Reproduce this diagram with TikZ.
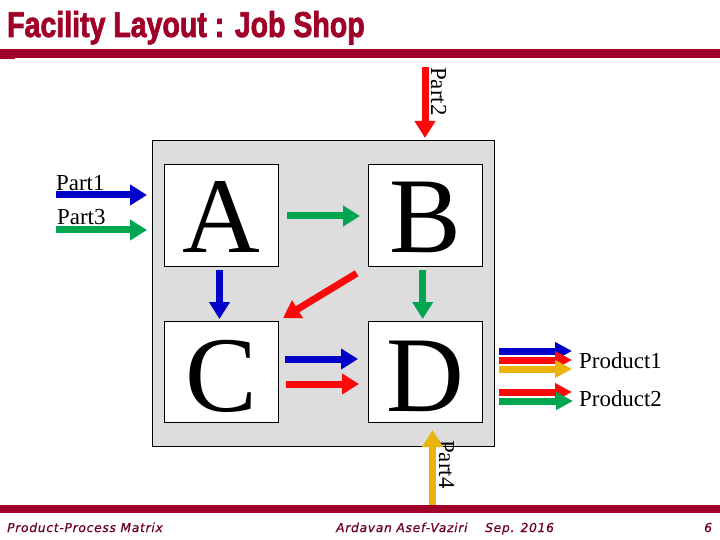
\documentclass[tikz,border=0pt]{standalone}
\usepackage{fontspec}
\setmainfont{Liberation Serif}
\newfontfamily\titlefont[FakeStretch=0.795,FakeBold=2]{Liberation Sans Bold}
\newfontfamily\footfont[LetterSpace=6,FakeBold=0.6]{DejaVu Sans Oblique}
\usetikzlibrary{arrows.meta}
\definecolor{barred}{RGB}{160,0,40}
\definecolor{footcol}{RGB}{110,0,35}
\definecolor{ablue}{RGB}{0,0,200}
\definecolor{agreen}{RGB}{0,166,80}
\definecolor{ared}{RGB}{250,10,10}
\definecolor{ayellow}{RGB}{235,180,10}
\definecolor{boxgray}{RGB}{221,221,221}
\tikzset{
  blockarrow/.style={line width=7bp,line cap=butt,-{Triangle[width=20bp,length=17bp]}},
  thinarrow/.style={line width=7bp,line cap=butt,-{Triangle[width=17bp,length=17bp]}},
  dept/.style={draw=black,fill=white,line width=0.8bp,inner sep=0pt},
  bigletter/.style={font=\fontsize{108}{108}\selectfont,inner sep=0pt,anchor=base},
  lbl/.style={font=\fontsize{23}{23}\selectfont,inner sep=0pt},
  foot/.style={font=\footfont\fontsize{12.3}{13}\selectfont,text=footcol,inner sep=0pt,anchor=base west}
}
\begin{document}
\begin{tikzpicture}[x=1bp,y=-1bp]
\useasboundingbox (0,0) rectangle (720,540);
\fill[white] (0,0) rectangle (720,540);
% title and bars
\node[font=\titlefont\fontsize{36}{36}\selectfont,text=barred,inner sep=0pt,anchor=base west] (title) at (7,37) {Facility Layout : Job Shop};
\fill[barred] (0,49) rectangle (720,58);
\fill[barred] (0,49) rectangle (15,59.5);
\fill[barred] (0,505) rectangle (720,513);
% plant
\draw[fill=boxgray,line width=0.8bp] (152,140) rectangle (494,446);
\node[dept,minimum width=114bp,minimum height=102bp] (A) at (221.5,215) {};
\node[dept,minimum width=114bp,minimum height=102bp] (B) at (425.5,215) {};
\node[dept,minimum width=114bp,minimum height=101bp] (C) at (221.5,371.5) {};
\node[dept,minimum width=114bp,minimum height=101bp] (D) at (425.5,371.5) {};
\node[bigletter] (la) at (221.5,253) {A};
\node[bigletter] (lb) at (425.5,253) {B};
\node[bigletter] (lc) at (221.5,411) {C};
\node[bigletter] (ld) at (425.5,411) {D};
% coordinates
\coordinate (p1s) at (56,195);   \coordinate (p1e) at (147,195);
\coordinate (p3s) at (56,230);   \coordinate (p3e) at (147,230);
\coordinate (p2s) at (425,67);   \coordinate (p2e) at (425,138);
\coordinate (p4s) at (432.5,505); \coordinate (p4e) at (432.5,430);
\coordinate (abs) at (287,216);  \coordinate (abe) at (360,216);
\coordinate (acs) at (219.5,270); \coordinate (ace) at (219.5,319);
\coordinate (bds) at (422.7,270); \coordinate (bde) at (422.7,319);
\coordinate (bcs) at (356.7,273.3); \coordinate (bce) at (283,318);
\coordinate (cd1s) at (285,359); \coordinate (cd1e) at (358,359);
\coordinate (cd2s) at (286,384); \coordinate (cd2e) at (359,384);
\coordinate (o1s) at (499,351); \coordinate (o1e) at (572,351);
\coordinate (o2s) at (499,360); \coordinate (o2e) at (572,360);
\coordinate (o3s) at (499,369); \coordinate (o3e) at (572,369);
\coordinate (o4s) at (499,392); \coordinate (o4e) at (572,392);
\coordinate (o5s) at (499,401); \coordinate (o5e) at (573,401);
% labels
\node[lbl,anchor=base west] (t1) at (56,191) {Part1};
\node[lbl,anchor=base west] (t3) at (57,225) {Part3};
\node[lbl,anchor=base west,rotate=-90] (t2) at (431,67) {Part2};
\node[lbl,anchor=base west,rotate=-90] (t4) at (439,440) {Part4};
\node[lbl,anchor=base west] (tp1) at (579,368) {Product1};
\node[lbl,anchor=base west] (tp2) at (579,406) {Product2};
% arrows
\draw[blockarrow,ablue] (p1s) -- (p1e);
\draw[blockarrow,agreen] (p3s) -- (p3e);
\draw[blockarrow,ared] (p2s) -- (p2e);
\draw[blockarrow,ayellow] (p4s) -- (p4e);
\draw[blockarrow,agreen] (abs) -- (abe);
\draw[blockarrow,ablue] (acs) -- (ace);
\draw[blockarrow,agreen] (bds) -- (bde);
\draw[blockarrow,ared] (bcs) -- (bce);
\draw[blockarrow,ablue] (cd1s) -- (cd1e);
\draw[blockarrow,ared] (cd2s) -- (cd2e);
\draw[thinarrow,ablue] (o1s) -- (o1e);
\draw[thinarrow,ared] (o2s) -- (o2e);
\draw[thinarrow,ayellow] (o3s) -- (o3e);
\draw[thinarrow,ared] (o4s) -- (o4e);
\draw[thinarrow,agreen] (o5s) -- (o5e);
% footer
\node[foot] (f1) at (7,532) {Product-Process Matrix};
\node[foot] (f2) at (336,532) {Ardavan Asef-Vaziri};
\node[foot] (f3) at (485,532) {Sep. 2016};
\node[foot] (f4) at (704,532) {6};
\end{tikzpicture}
\end{document}
